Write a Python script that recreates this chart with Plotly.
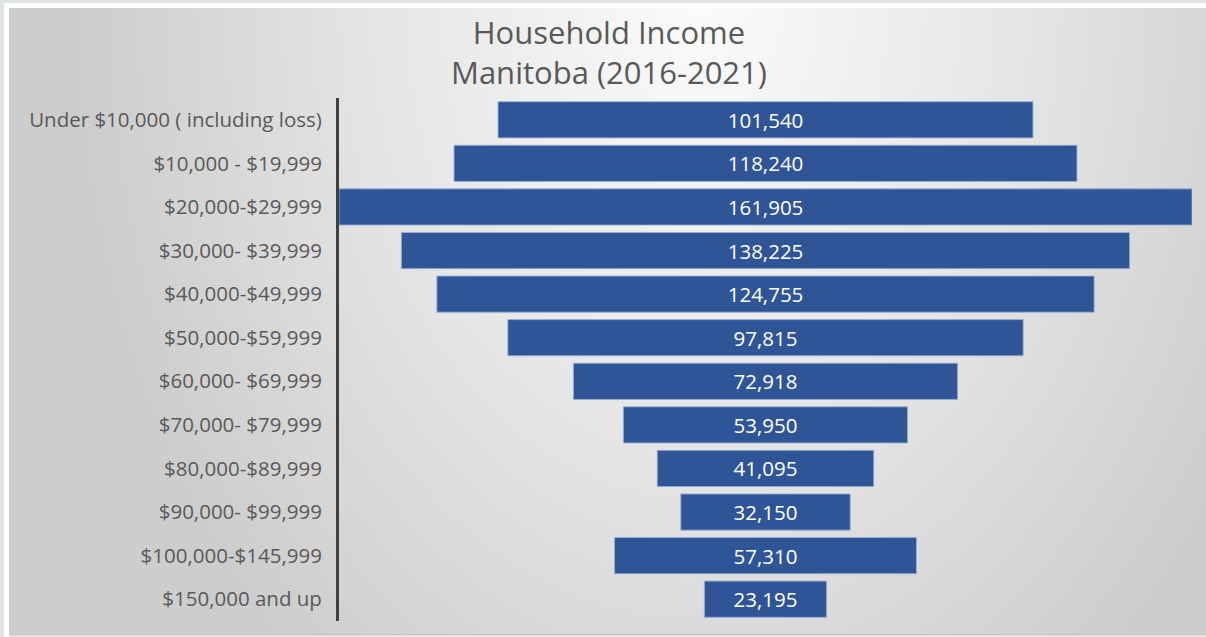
import base64
import plotly.graph_objects as go

categories = [
    "Under $10,000 ( including loss)",
    "$10,000 - $19,999",
    "$20,000-$29,999",
    "$30,000- $39,999",
    "$40,000-$49,999",
    "$50,000-$59,999",
    "$60,000- $69,999",
    "$70,000- $79,999",
    "$80,000-$89,999",
    "$90,000- $99,999",
    "$100,000-$145,999",
    "$150,000 and up",
]
households = [101540, 118240, 161905, 138225, 124755, 97815, 72918, 53950, 41095, 32150, 57310, 23195]
title_lines = ["Household Income", "Manitoba (2016-2021)"]

W, H = 1206, 637
L, R, T, B = 339, 14, 98, 16
pw, ph = W - L - R, H - T - B
FONT = "Open Sans"

svg = f"""<svg xmlns='http://www.w3.org/2000/svg' width='{W}' height='{H}' viewBox='0 0 {W} {H}' preserveAspectRatio='none'>
<defs><radialGradient id='g' gradientUnits='userSpaceOnUse' cx='0' cy='0' r='1' gradientTransform='translate(700,0) scale(620,860)'>
<stop offset='0' stop-color='#fbfbfb'/><stop offset='0.55' stop-color='#e4e4e4'/><stop offset='1' stop-color='#cdcdcd'/></radialGradient></defs>
<rect x='0' y='0' width='{W}' height='{H}' fill='#dfe6df'/>
<rect x='4' y='3' width='{W-4}' height='{H-3}' fill='#ffffff'/>
<rect x='9' y='8' width='{W-9}' height='{H-8}' fill='#e4e4e4'/>
<rect x='9' y='8' width='{W-9}' height='{H-10}' fill='#c4c4c4'/>
<rect x='9' y='8' width='{W-9}' height='{H-11}' fill='url(#g)'/>
</svg>"""
src = "data:image/svg+xml;base64," + base64.b64encode(svg.encode()).decode()

half = [v / 2 for v in households]
fig = go.Figure(go.Bar(
    y=categories,
    x=households,
    base=[-h for h in half],
    orientation="h",
    marker=dict(color="#2f5597", line=dict(color="rgba(150,175,215,0.9)", width=1)),
    text=[f"{v:,}" for v in households],
    textposition="inside",
    insidetextanchor="middle",
    textfont=dict(color="white", size=20.5, family=FONT),
    hoverinfo="skip",
))

fig.update_layout(
    width=W, height=H,
    margin=dict(l=L, r=R, t=T, b=B, autoexpand=False),
    paper_bgcolor="#dfe6df",
    plot_bgcolor="rgba(0,0,0,0)",
    bargap=0.17,
    showlegend=False,
    title=dict(
        text="<br>".join(title_lines),
        x=609 / W, xanchor="center", xref="container",
        y=1 - 44 / H, yanchor="middle", yref="container",
        font=dict(family=FONT, size=31, color="#595959"),
    ),
    xaxis=dict(range=[-max(households) / 2, max(households) / 2], visible=False, fixedrange=True),
    yaxis=dict(
        autorange="reversed",
        showline=True, linecolor="#404040", linewidth=3,
        showgrid=False, ticks="", ticklabelstandoff=10,
        tickfont=dict(family=FONT, size=20.5, color="#595959"),
    ),
    images=[dict(
        source=src, xref="paper", yref="paper",
        x=-L / pw, y=1 + T / ph, sizex=W / pw, sizey=H / ph,
        xanchor="left", yanchor="top", sizing="stretch", layer="below",
    )],
)

fig.write_html("out.html", config={"displayModeBar": False},
               post_script="document.body.style.margin='0';")
